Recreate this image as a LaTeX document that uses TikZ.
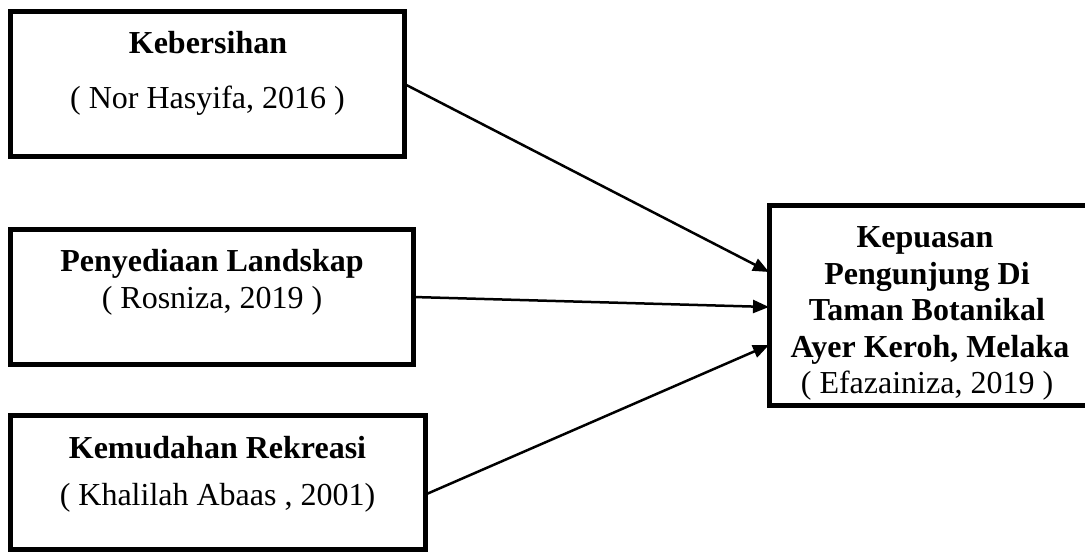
\documentclass[tikz,border=0pt]{standalone}
\usepackage{fontspec}
\setmainfont{Liberation Serif}
\usetikzlibrary{arrows.meta}
\begin{document}
\begin{tikzpicture}[x=1pt,y=-1pt,
  box/.style={draw=black,line width=5pt,rectangle,inner sep=0pt,outer sep=0pt},
  txt/.style={anchor=base,inner sep=0pt,font=\fontsize{32}{37}\selectfont},
  btxt/.style={txt,font=\fontsize{32}{37}\selectfont\bfseries},
  conn/.style={line width=2.5pt,-{Triangle[length=16pt,width=13pt]}}]
\clip (0,0) rectangle (1085,552);
\fill[white] (0,0) rectangle (1085,552);
% boxes
\node[box,minimum width=394pt,minimum height=145pt] (b1) at (207.5,84) {};
\node[box,minimum width=403pt,minimum height=135pt] (b2) at (212,297) {};
\node[box,minimum width=415pt,minimum height=134pt] (b3) at (218,482.5) {};
\node[box,minimum width=320pt,minimum height=200pt] (b4) at (929,305) {};
% texts
\node[btxt] (t1a) at (208,53) {Kebersihan};
\node[txt] (t1b) at (207.5,108) {( Nor Hasyifa, 2016 )};
\node[btxt] (t2a) at (212,271) {Penyediaan Landskap};
\node[txt] (t2b) at (212,308) {( Rosniza, 2019 )};
\node[btxt] (t3a) at (217.5,458) {Kemudahan Rekreasi};
\node[txt] (t3b) at (217.5,505) {( Khalilah Abaas , 2001)};
\node[btxt] (t4a) at (925,247) {Kepuasan};
\node[btxt] (t4b) at (927,284) {Pengunjung Di};
\node[btxt] (t4c) at (927,320) {Taman Botanikal};
\node[btxt] (t4d) at (930,357) {Ayer Keroh, Melaka};
\node[txt] (t4e) at (927,393) {( Efazainiza, 2019 )};
% connectors
\draw[conn] (b1.east) -- ([yshift=33pt]b4.west);
\draw[conn] (b2.east) -- ([yshift=-2pt]b4.west);
\draw[conn] ([yshift=-12pt]b3.east) -- ([yshift=-40pt]b4.west);
\end{tikzpicture}
\end{document}
